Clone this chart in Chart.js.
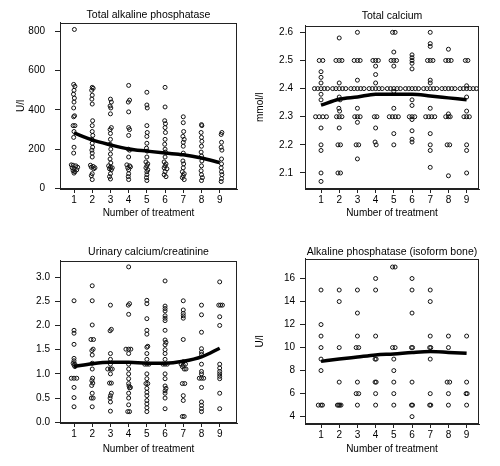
<!DOCTYPE html>
<html>
<head>
<meta charset="utf-8">
<script src="https://cdn.jsdelivr.net/npm/chart.js@4"></script>
<style>
  html, body { margin: 0; padding: 0; background: #fff; }
  #wrap { position: relative; width: 500px; height: 466px; }
  canvas { position: absolute; }
</style>
</head>
<body>
<div id="wrap">
  <canvas id="c1" width="250" height="233" style="left:0;top:0"></canvas>
  <canvas id="c2" width="250" height="233" style="left:250px;top:0"></canvas>
  <canvas id="c3" width="250" height="233" style="left:0;top:233px"></canvas>
  <canvas id="c4" width="250" height="233" style="left:250px;top:233px"></canvas>
</div>
<script>
// treatment numbers on the x axis
const treatments = [1, 2, 3, 4, 5, 6, 7, 8, 9];

// Total alkaline phosphatase (U/l), [treatment + jitter, value]
const totalAlp = [
  [1.02,810],[0.98,530],[1.05,520],[1.0,500],[0.97,480],[1.02,460],[1.0,440],[0.98,410],[1.03,370],[0.98,365],
  [1.05,320],[0.95,320],[1.0,290],[0.98,260],[1.0,210],[0.98,180],[0.85,120],[0.95,118],[1.1,115],[1.2,108],
  [0.9,105],[1.0,100],[1.15,95],[0.95,90],[1.05,85],[1.0,78],
  [2.0,515],[2.05,510],[1.97,500],[2.0,475],[1.98,455],[2.0,430],[2.02,345],[2.0,320],[2.0,290],[2.03,270],
  [1.98,250],[2.0,230],[2.02,210],[1.98,195],[2.0,180],[2.0,160],[1.9,118],[2.05,112],[1.95,108],[2.15,105],
  [2.08,100],[2.0,75],[1.95,65],[2.0,45],
  [3.0,455],[3.05,440],[2.98,420],[3.02,410],[3.0,380],[3.05,310],[2.98,300],[3.0,280],[3.0,250],[2.98,225],
  [3.02,200],[3.0,175],[2.98,150],[3.02,130],[2.9,115],[3.0,108],[3.1,105],[2.95,100],[3.05,95],[3.0,75],
  [2.95,60],[3.0,48],
  [4.0,525],[3.98,440],[4.05,450],[4.0,390],[4.0,310],[4.05,300],[4.0,270],[3.98,200],[4.05,195],[4.0,160],
  [3.9,120],[4.05,115],[4.1,110],[3.95,105],[4.0,95],[4.0,75],[3.98,60],[4.0,45],
  [5.0,490],[5.0,425],[5.02,410],[5.0,320],[5.02,285],[5.0,265],[5.0,230],[4.98,205],[5.02,190],[5.0,160],
  [4.95,135],[5.05,125],[5.0,115],[4.95,105],[5.05,95],[5.0,85],[5.0,70],[4.98,55],[5.0,40],
  [6.0,515],[6.0,415],[5.98,345],[6.02,330],[6.0,310],[6.02,285],[6.0,250],[5.98,225],[6.0,200],[6.02,185],
  [6.0,160],[5.95,135],[6.05,125],[6.0,115],[5.95,105],[6.1,100],[6.0,85],[5.95,70],[6.05,60],
  [7.0,365],[7.0,335],[7.02,290],[6.98,265],[7.05,250],[7.0,235],[7.0,215],[7.0,180],[6.98,140],[7.02,125],
  [7.0,105],[6.95,85],[7.05,75],[7.0,65],[6.95,55],[7.05,45],
  [8.0,325],[8.02,320],[7.98,285],[8.0,260],[8.02,240],[8.0,215],[7.98,185],[8.0,165],[8.02,140],[8.0,115],
  [7.98,90],[8.0,70],[8.05,55],[8.0,40],
  [9.12,285],[9.08,275],[9.1,235],[9.08,210],[9.12,195],[9.1,150],[9.1,125],[9.08,105],[9.1,85],[9.12,70],
  [9.1,50],[9.08,35]
];
const totalAlpSmooth = [283, 247, 222, 201, 190, 180, 171, 155, 132];
const totalAlpTicks = [0, 200, 400, 600, 800];

// Total calcium (mmol/l)
const calcium = [
  [0.9,2.5],[1.1,2.5],[1.0,2.46],[1.0,2.44],[1.0,2.42],[1.0,2.38],[1.0,2.36],
  [0.64,2.4],[0.82,2.4],[1.0,2.4],[1.18,2.4],[1.36,2.4],
  [0.7,2.3],[0.9,2.3],[1.1,2.3],[1.3,2.3],[1.0,2.26],[1.0,2.2],[1.0,2.18],[1.0,2.1],[1.0,2.07],
  [2.0,2.58],[1.82,2.5],[2.0,2.5],[2.15,2.5],[2.0,2.42],
  [1.64,2.4],[1.82,2.4],[2.0,2.4],[2.18,2.4],[2.36,2.4],
  [2.0,2.37],[2.05,2.36],[1.98,2.33],[2.02,2.32],[1.85,2.3],[2.0,2.3],[2.15,2.3],[2.0,2.26],
  [1.93,2.2],[2.07,2.2],[1.93,2.1],[2.07,2.1],
  [3.0,2.6],[2.82,2.5],[3.0,2.5],[3.15,2.5],[3.0,2.43],
  [2.64,2.4],[2.82,2.4],[3.0,2.4],[3.18,2.4],[3.36,2.4],
  [3.0,2.33],[2.85,2.3],[3.0,2.3],[3.15,2.3],[3.0,2.28],[2.93,2.2],[3.07,2.2],[3.0,2.15],
  [3.85,2.5],[4.0,2.5],[4.15,2.5],[4.0,2.48],[4.0,2.45],[4.0,2.42],
  [3.64,2.4],[3.82,2.4],[4.0,2.4],[4.18,2.4],[4.36,2.4],
  [3.93,2.3],[4.07,2.3],[4.0,2.26],[3.97,2.21],[4.03,2.2],
  [4.93,2.6],[5.07,2.6],[5.0,2.53],[4.85,2.5],[5.0,2.5],[5.15,2.5],[5.0,2.48],
  [4.64,2.4],[4.82,2.4],[5.0,2.4],[5.18,2.4],[5.36,2.4],
  [5.0,2.39],[5.0,2.33],[4.75,2.3],[4.92,2.3],[5.08,2.3],[5.25,2.3],[5.0,2.24],[5.0,2.2],
  [6.0,2.52],[6.0,2.51],[6.0,2.5],[6.0,2.49],[6.0,2.47],
  [5.64,2.4],[5.82,2.4],[6.0,2.4],[6.18,2.4],[6.36,2.4],
  [6.0,2.36],[6.0,2.34],[5.85,2.3],[6.0,2.3],[6.15,2.3],[6.0,2.29],[6.0,2.25],[6.0,2.22],[6.0,2.21],
  [7.0,2.6],[7.0,2.56],[7.0,2.55],[6.85,2.5],[7.0,2.5],[7.15,2.5],[7.0,2.43],[7.0,2.42],
  [6.64,2.4],[6.82,2.4],[7.0,2.4],[7.18,2.4],[7.36,2.4],
  [7.0,2.33],[6.75,2.3],[6.92,2.3],[7.08,2.3],[7.25,2.3],[7.0,2.24],[7.0,2.2],[7.0,2.18],[7.0,2.12],
  [8.0,2.54],[7.85,2.5],[8.0,2.5],[8.15,2.5],
  [7.64,2.4],[7.82,2.4],[8.0,2.4],[8.18,2.4],[8.36,2.4],
  [8.0,2.31],[7.85,2.3],[8.0,2.3],[8.1,2.3],[7.93,2.2],[8.07,2.2],[8.0,2.09],
  [8.93,2.5],[9.07,2.5],[9.0,2.41],
  [8.64,2.4],[8.82,2.4],[9.0,2.4],[9.18,2.4],[9.36,2.4],[9.54,2.4],
  [9.0,2.37],[9.0,2.32],[8.85,2.3],[9.0,2.3],[9.15,2.3],[9.0,2.2],[9.0,2.18],[9.0,2.1]
];
const calciumSmooth = [2.341, 2.362, 2.37, 2.38, 2.38, 2.38, 2.374, 2.367, 2.36];
const calciumTicks = [2.1, 2.2, 2.3, 2.4, 2.5, 2.6];

// Urinary calcium/creatinine
const urinary = [
  [1.0,2.51],[1.0,1.9],[1.0,1.84],[1.0,1.61],[1.0,1.32],[1.0,1.27],[0.95,1.22],[1.05,1.2],[1.0,1.18],[1.05,1.15],
  [0.85,0.91],[1.0,0.91],[1.15,0.91],[1.0,0.72],[1.0,0.51],[1.0,0.32],
  [2.0,2.82],[2.0,2.51],[2.0,2.01],[1.93,1.71],[2.07,1.71],[2.05,1.51],[1.98,1.48],[2.0,1.39],[2.0,1.22],[2.0,1.1],
  [2.02,0.91],[1.98,0.86],[2.03,0.81],[1.97,0.76],[2.0,0.6],[1.95,0.5],[2.05,0.5],[2.0,0.32],
  [3.0,2.42],[2.98,1.89],[3.05,1.92],[3.0,1.42],[3.0,1.3],[3.0,1.2],[2.85,1.1],[3.0,1.1],[3.1,1.1],[3.0,1.0],
  [2.95,0.81],[3.05,0.81],[3.05,0.6],[3.0,0.55],[2.98,0.5],[3.0,0.42],[3.0,0.23],
  [4.0,3.21],[3.98,2.42],[4.05,2.45],[4.0,2.23],[3.85,1.51],[4.0,1.51],[4.12,1.51],[4.0,1.42],[4.0,1.2],[4.0,1.1],
  [4.0,1.0],[4.0,0.9],[4.0,0.8],[4.02,0.75],[4.05,0.71],[4.1,0.72],[4.0,0.6],[4.0,0.5],[4.0,0.36],[3.95,0.22],[4.05,0.22],
  [5.0,2.52],[5.0,2.45],[5.0,2.14],[5.0,1.9],[5.0,1.82],[5.0,1.55],[5.05,1.57],[5.0,1.42],[5.0,1.3],[4.88,1.2],
  [5.0,1.2],[5.12,1.2],[5.0,1.0],[5.0,0.9],[4.95,0.8],[5.05,0.8],[5.0,0.7],[5.0,0.62],[5.0,0.55],[5.0,0.45],
  [5.0,0.38],[5.0,0.3],[5.0,0.22],
  [6.0,2.92],[6.0,2.4],[6.0,2.35],[6.0,2.3],[6.0,2.2],[6.0,2.15],[6.0,2.1],[6.0,1.9],[6.0,1.7],[6.05,1.65],
  [6.0,1.6],[6.0,1.5],[6.0,1.42],[6.0,1.3],[5.88,1.2],[6.0,1.2],[6.12,1.2],[6.0,1.0],[6.0,0.9],[6.0,0.75],
  [6.05,0.7],[6.0,0.65],[6.0,0.6],[6.0,0.5],[6.0,0.28],
  [7.0,2.51],[7.0,2.32],[7.0,2.25],[7.0,2.2],[7.0,2.15],[7.0,1.71],[7.0,1.25],[6.88,1.2],[7.0,1.18],[7.12,1.2],
  [6.95,1.15],[7.05,1.1],[7.15,1.1],[6.95,0.8],[7.08,0.8],[7.0,0.55],[7.0,0.45],[6.95,0.12],[7.05,0.12],
  [8.0,2.42],[8.0,2.22],[8.0,1.86],[8.0,1.52],[8.0,1.45],[8.0,1.4],[8.0,1.2],[8.0,1.05],[8.0,1.0],[7.88,0.91],
  [8.0,0.91],[8.12,0.91],[8.0,0.72],[8.0,0.42],[8.0,0.35],[8.0,0.28],[8.0,0.22],
  [9.0,2.9],[8.95,2.42],[9.05,2.42],[9.15,2.42],[9.0,2.18],[9.0,2.0],[9.0,1.2],[9.0,1.12],[9.0,1.05],[9.0,1.0],
  [9.0,0.95],[9.0,0.9],[9.0,0.6],[9.0,0.28]
];
const urinarySmooth = [1.15, 1.21, 1.24, 1.24, 1.22, 1.22, 1.26, 1.35, 1.53];
const urinaryTicks = [0, 0.5, 1, 1.5, 2, 2.5, 3];

// Alkaline phosphatase, bone isoform (U/l)
const boneAlp = [
  [1.0,15],[1.0,12],[1.0,11],[1.0,10],[1.0,9],[1.0,8],[0.85,5],[1.0,5],[1.08,5],
  [2.0,15],[2.0,14],[2.0,10],[2.0,7],[1.9,5],[1.97,5],[2.03,5],[2.1,5],
  [3.0,15],[3.0,13],[3.0,11],[2.93,10],[3.07,10],[3.0,7],[2.93,6],[3.07,6],[3.0,5],
  [4.0,16],[4.0,15],[4.0,11],[3.97,9],[4.03,9],[3.97,7],[4.03,7],[4.0,6],[4.0,5],
  [4.93,17],[5.07,17],[4.93,10],[5.07,10],[5.0,9],[5.0,8],[5.0,7],[5.0,6],[5.0,5],
  [6.0,16],[6.0,15],[6.0,13],[5.97,10],[6.03,10],[6.0,7],[5.97,5],[6.03,5],[6.0,4],
  [7.0,15],[7.0,14],[7.0,11],[6.97,10],[7.03,10],[7.0,9],[7.0,6],[6.97,5],[7.03,5],
  [8.0,11],[8.0,10],[7.93,7],[8.07,7],[8.0,6],[8.0,5],
  [9.0,11],[9.0,7],[8.97,6],[9.03,6],[9.0,5]
];
const boneAlpSmooth = [8.8, 9.0, 9.18, 9.36, 9.45, 9.57, 9.65, 9.58, 9.5];
const boneAlpTicks = [4, 6, 8, 10, 12, 14, 16];

Chart.defaults.font.family = '"Liberation Sans", Arial, sans-serif';
Chart.defaults.color = '#000';
Chart.defaults.animation = false;

// frame round the plot area
const boxPlugin = {
  id: 'box',
  afterDraw(chart) {
    const a = chart.chartArea;
    const c = chart.ctx;
    c.save();
    c.strokeStyle = '#222';
    c.lineWidth = 1;
    c.strokeRect(Math.round(a.left) + 0.5, Math.round(a.top) + 0.5,
                 Math.round(a.right - a.left) - 1, Math.round(a.bottom - a.top) - 1);
    c.restore();
  }
};

function makePanel(id, p) {
  const ctx = document.getElementById(id).getContext('2d');
  return new Chart(ctx, {
    type: 'scatter',
    data: {
      datasets: [
        {
          data: p.points.map(v => ({x: v[0], y: v[1]})),
          order: 1,
          pointRadius: 2,
          pointBorderWidth: 1,
          borderColor: '#111',
          backgroundColor: 'rgba(0,0,0,0)'
        },
        {
          type: 'line',
          order: 0,
          data: treatments.map((t, i) => ({x: t, y: p.smooth[i]})),
          borderColor: '#000',
          borderWidth: 3.5,
          pointRadius: 0,
          fill: false,
          cubicInterpolationMode: 'monotone'
        }
      ]
    },
    options: {
      responsive: false,
      events: [],
      layout: {padding: {left: 0, right: p.right, top: 0, bottom: 0}},
      plugins: {
        legend: {display: false},
        tooltip: {enabled: false},
        title: {
          display: true,
          text: p.title,
          fullSize: false,
          color: '#000',
          font: {size: 10.5, weight: 'normal'},
          padding: {top: p.titleTop, bottom: p.titleBottom}
        }
      },
      scales: {
        x: {
          type: 'linear',
          bounds: 'data',
          min: p.xMin,
          max: p.xMax,
          afterBuildTicks: s => { s.ticks = treatments.map(v => ({value: v})); },
          afterFit: s => { s.height = p.xh; },
          ticks: {font: {size: 10}, padding: 1, maxRotation: 0, autoSkip: false},
          grid: {drawOnChartArea: false, tickLength: 4, color: '#222'},
          border: {color: '#222'},
          title: {
            display: true,
            text: 'Number of treatment',
            font: {size: 10},
            padding: {top: 0, bottom: p.xTitlePad}
          }
        },
        y: {
          type: 'linear',
          bounds: 'data',
          min: p.yMin,
          max: p.yMax,
          afterBuildTicks: s => { s.ticks = p.ticks.map(v => ({value: v})); },
          afterFit: s => { s.width = p.yw; },
          ticks: {font: {size: 10}, padding: p.yPad, callback: v => v.toFixed(p.digits)},
          grid: {drawOnChartArea: false, tickLength: 5, color: '#222'},
          border: {color: '#222'},
          title: {
            display: p.yTitle !== '',
            text: p.yTitle,
            font: {size: 10},
            padding: {top: p.yTitlePad, bottom: 0}
          }
        }
      }
    },
    plugins: [boxPlugin]
  });
}

makePanel('c1', {
  title: 'Total alkaline phosphatase', yTitle: 'U/l',
  points: totalAlp, smooth: totalAlpSmooth, ticks: totalAlpTicks, digits: 0,
  xMin: 0.23, xMax: 9.95, yMin: -3, yMax: 845,
  yw: 60, xh: 44, right: 13, titleTop: 9, titleBottom: 1, yPad: 10, yTitlePad: 15, xTitlePad: 14
});
makePanel('c2', {
  title: 'Total calcium', yTitle: 'mmol/l',
  points: calcium, smooth: calciumSmooth, ticks: calciumTicks, digits: 1,
  xMin: 0.12, xMax: 9.68, yMin: 2.043, yMax: 2.624,
  yw: 55, xh: 44, right: 21, titleTop: 10, titleBottom: 3, yPad: 7, yTitlePad: 4, xTitlePad: 14
});
makePanel('c3', {
  title: 'Urinary calcium/creatinine', yTitle: '',
  points: urinary, smooth: urinarySmooth, ticks: urinaryTicks, digits: 1,
  xMin: 0.23, xMax: 9.95, yMin: -0.015, yMax: 3.34,
  yw: 60, xh: 43, right: 13, titleTop: 13, titleBottom: 2, yPad: 5, yTitlePad: 4, xTitlePad: 11
});
makePanel('c4', {
  title: 'Alkaline phosphatase (isoform bone)', yTitle: 'U/l',
  points: boneAlp, smooth: boneAlpSmooth, ticks: boneAlpTicks, digits: 0,
  xMin: 0.12, xMax: 9.68, yMin: 3.36, yMax: 17.73,
  yw: 55, xh: 42, right: 21, titleTop: 13, titleBottom: 0, yPad: 5, yTitlePad: 4, xTitlePad: 11
});
</script>
</body>
</html>
